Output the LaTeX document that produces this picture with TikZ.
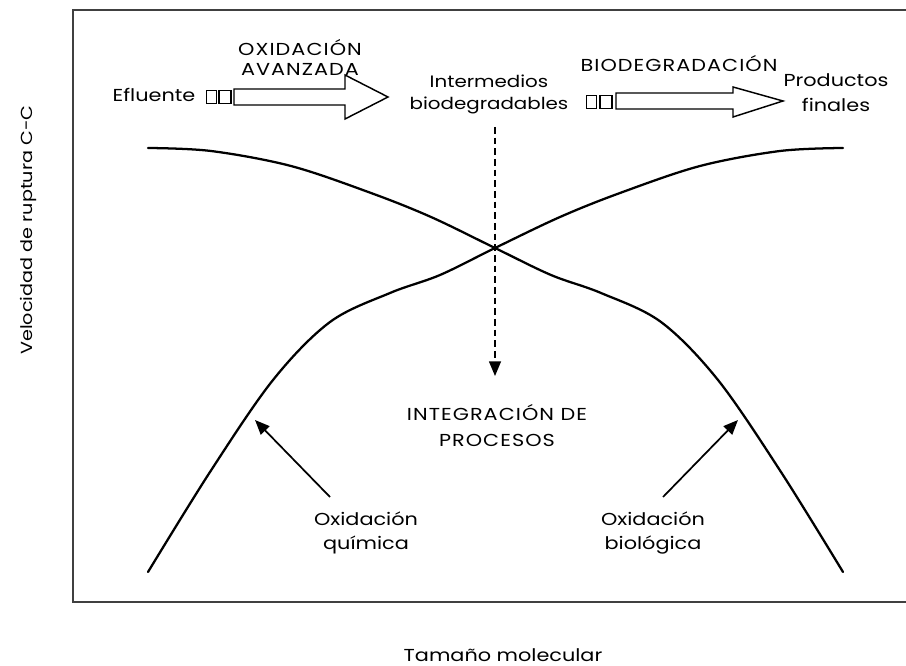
\documentclass[tikz,border=0pt]{standalone}
\usepackage{fontspec}
\setmainfont{Poppins}[FakeStretch=1.2]
\usetikzlibrary{arrows.meta}
\tikzset{curve/.style = {line width=1.7pt, line cap=round},
           frame/.style = {line width=1.3pt, draw=black!75},
           hollow/.style = {draw, line width=1.1pt, fill=white, line join=miter},
           sq/.style = {draw, line width=0.8pt, minimum height=9.5pt, inner sep=0pt},
           txt/.style = {align=center, inner sep=0pt, font=\fontsize{13}{18.5}\selectfont},
           caps/.style = {txt, font=\fontsize{13}{#1}\selectfont\addfontfeatures{LetterSpace=6}},
           caps/.default = 18.5,
           pointer/.style = {line width=1.3pt, -{Triangle[length=11pt,width=9pt]}}}

\begin{document}
\begin{tikzpicture}[x=0.75pt, y=-0.75pt]
    \useasboundingbox (0,0) rectangle (906,666);
    % frame, open to the right
    \draw[frame] (906,10) -- (73,10) -- (73,602) -- (906,602);
    % axis labels
    \node[txt, rotate=90, font=\fontsize{12}{14}\selectfont] (vel) at (28,230) {Velocidad de ruptura C-C};
    \node[txt] (tam) at (503,655) {Tamaño molecular};
    % top row
    \node[txt] (efl) at (154,95) {Efluente};
    \node[sq, minimum width=7pt] (s1) at (211.5,97) {};
    \node[sq, minimum width=9pt] (s2) at (225,97) {};
    \node[caps=15] (oxav) at (300,57) {OXIDACIÓN\\AVANZADA};
    \node[txt, font=\fontsize{12.4}{16.5}\selectfont] (inter) at (489,94) {Intermedios\\biodegradables};
    \node[sq, minimum width=7pt] (s3) at (591.5,102) {};
    \node[sq, minimum width=9pt] (s4) at (606,102) {};
    \node[caps] (biod) at (679,64) {BIODEGRADACIÓN};
    \node[txt] (prod) at (836,93) {Productos\\finales};
    % hollow arrows
    \draw[hollow] (234,89) -- (345,89) -- (345,75) -- (388,97) -- (345,119)
        -- (345,105) -- (234,105) -- cycle;
    \draw[hollow] (616,93) -- (733,93) -- (733,87) -- (783,101) -- (733,117)
        -- (733,109) -- (616,109) -- cycle;
    % rate curves
    \draw[curve] plot[smooth, tension=0.55] coordinates {(148,572) (210,472) (273,380)
        (330,322) (390,293) (440,275) (495,248) (560,217) (620,193) (700,166) (780,151) (843,148)};
    \draw[curve] plot[smooth, tension=0.55] coordinates {(843,572) (781,472) (718,380)
        (661,322) (601,293) (551,275) (495,248) (431,217) (371,193) (291,166) (211,151) (148,148)};
    % integration
    \coordinate (dtop) at (495,127);
    \coordinate (dend) at (495,376);
    \draw[line width=1pt, dash pattern=on 5pt off 3pt, -{Triangle[length=11pt,width=9pt]}] (dtop) -- (dend);
    \node[caps=19.5] (integ) at (497,426) {INTEGRACIÓN DE\\PROCESOS};
    % oxidation labels
    \node[txt] (quim) at (366,533) {Oxidación\\química};
    \node[txt] (biol) at (653,533) {Oxidación\\biológica};
    \coordinate (qtail) at (330,497);
    \coordinate (qtip) at (255,420);
    \coordinate (btail) at (663,497);
    \coordinate (btip) at (738,420);
    \draw[pointer] (qtail) -- (qtip);
    \draw[pointer] (btail) -- (btip);
\end{tikzpicture}
\end{document}
